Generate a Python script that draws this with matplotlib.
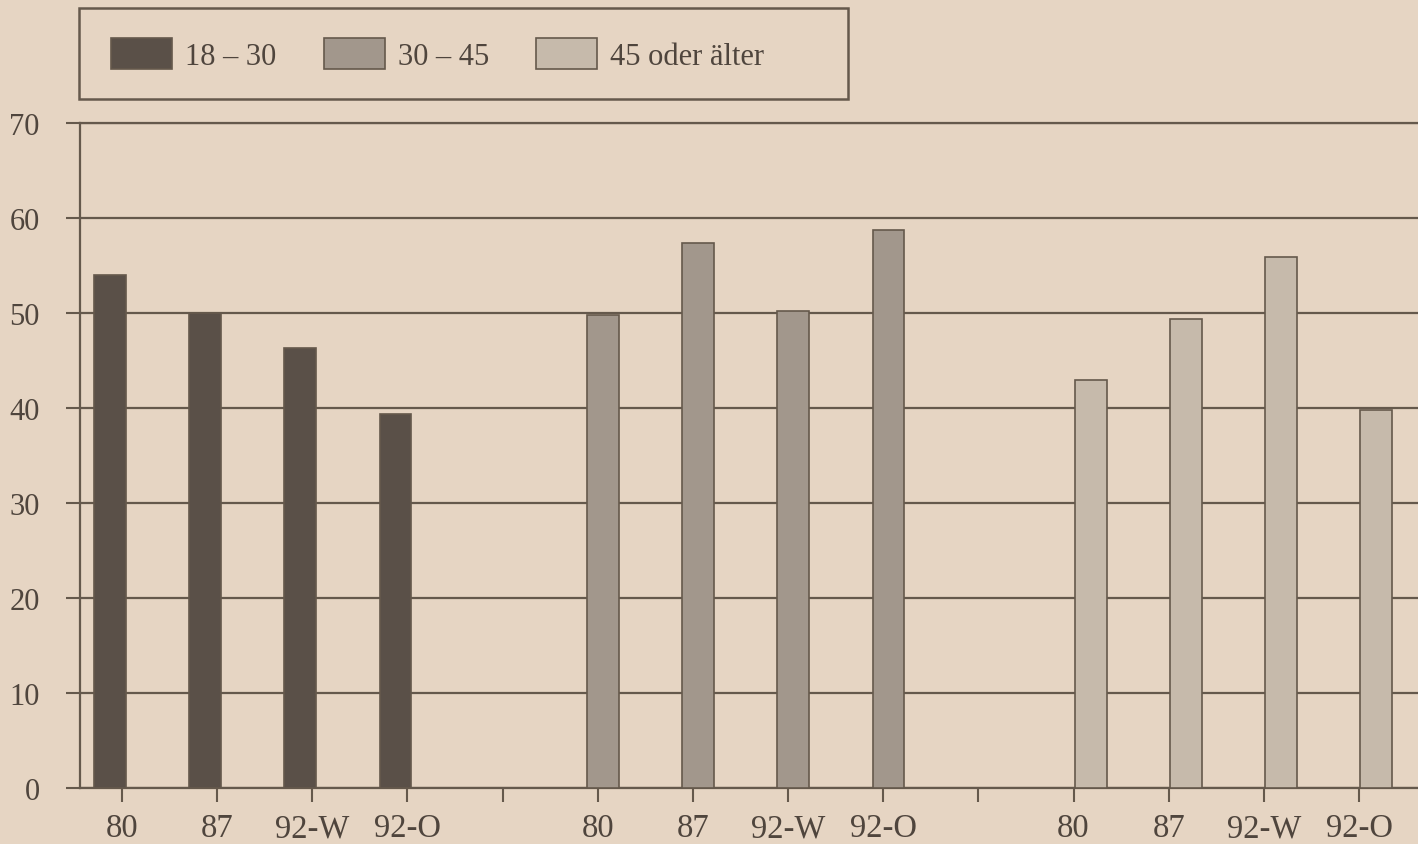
import numpy as np
import matplotlib
matplotlib.use("Agg")
from matplotlib import pyplot as plt
from matplotlib.patches import Patch, Rectangle

# survey years / regions shown under each age block
CATEGORIES = ["80", "87", "92-W", "92-O"]
AGE_GROUPS = ["18 – 30", "30 – 45", "45 oder älter"]

# percent values
AGE_18_30 = [54.0, 50.0, 46.3, 39.4]
AGE_30_45 = [49.8, 57.4, 50.2, 58.7]
AGE_45_PLUS = [43.0, 49.4, 55.9, 39.8]

Y_TICKS = [0, 10, 20, 30, 40, 50, 60, 70]

PAPER = "#e6d5c3"
INK = "#4f453d"
LINE = "#65594c"
COLORS = ["#5a5048", "#a2978c", "#c6baab"]
# each block of bars sits a bit differently against its ticks in the print
OFFSETS = [-0.125, 0.055, 0.18]
BAR_WIDTH = 0.335
GROUP_STEP = len(CATEGORIES) + 1

plt.rcParams["font.family"] = ["Liberation Serif", "DejaVu Serif"]

fig = plt.figure(figsize=(14.18, 8.45), dpi=100, facecolor=PAPER)
ax = fig.add_axes([80 / 1418, 1 - 789 / 845, 1 - 80 / 1418, (789 - 124) / 845])
ax.set_facecolor(PAPER)

series = [AGE_18_30, AGE_30_45, AGE_45_PLUS]
for g, values in enumerate(series):
    x = np.arange(len(values)) + g * GROUP_STEP + OFFSETS[g]
    ax.bar(x, values, width=BAR_WIDTH, color=COLORS[g], edgecolor=LINE,
           linewidth=1.2, zorder=3)

tick_pos = np.arange(3 * GROUP_STEP - 1)
tick_labels = []
for g in range(3):
    tick_labels += CATEGORIES
    if g < 2:
        tick_labels.append("")
ax.set_xticks(tick_pos)
ax.set_xticklabels(tick_labels)
ax.set_xlim(-0.441, 13.62)

ax.set_ylim(0, 70)
ax.set_yticks(Y_TICKS)
ax.yaxis.grid(True, color=LINE, linewidth=1.6, zorder=1)
ax.set_axisbelow(True)

ax.spines["right"].set_visible(False)
for side in ["left", "bottom", "top"]:
    ax.spines[side].set_color(LINE)
    ax.spines[side].set_linewidth(1.6)

ax.tick_params(axis="both", direction="out", length=10, width=1.5,
               color=LINE, labelcolor=INK)
ax.tick_params(axis="y", pad=19, labelsize=22)
ax.tick_params(axis="x", pad=8, labelsize=23.5)

handles = [Patch(facecolor=c, edgecolor=LINE, linewidth=1.2) for c in COLORS]
fig.legend(handles, AGE_GROUPS, loc="upper left", ncol=3,
           bbox_to_anchor=(111 / 1418, 1 - 39 / 845), frameon=False,
           fontsize=22, handlelength=2.0, handleheight=1.2,
           handletextpad=0.42, columnspacing=1.55, borderpad=0,
           borderaxespad=0, labelcolor=INK)
fig.patches.append(Rectangle((79 / 1418, 1 - 100 / 845), (848 - 79) / 1418,
                             91 / 845, transform=fig.transFigure,
                             facecolor="none", edgecolor=LINE, linewidth=1.8))

fig.savefig("out.png", dpi=100, facecolor=PAPER)
